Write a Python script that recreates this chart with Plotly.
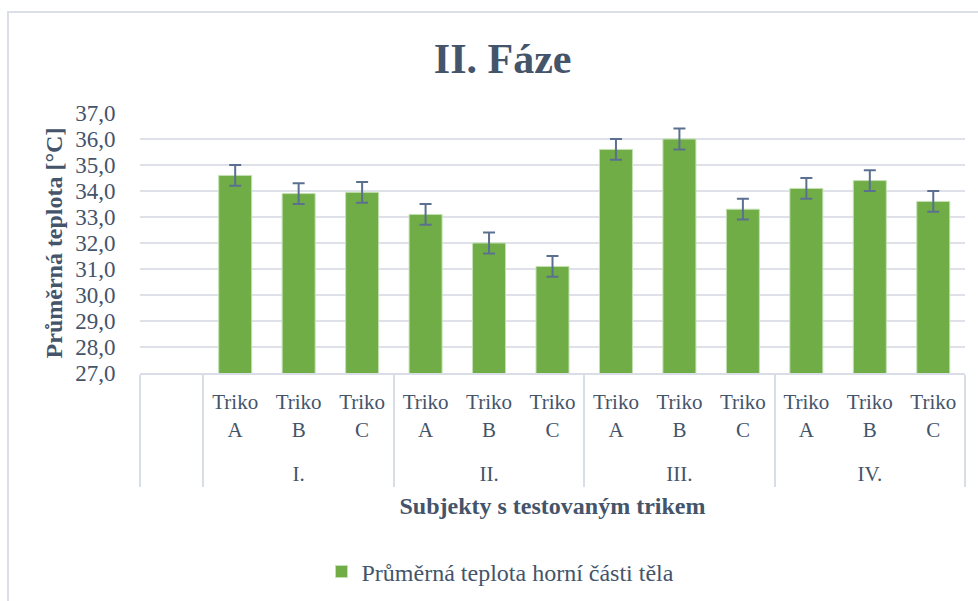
import plotly.graph_objects as go

groups = ["I.", "II.", "III.", "IV."]
shirts = ["Triko<br>A", "Triko<br>B", "Triko<br>C"]
values = [34.6, 33.9, 33.95, 33.1, 32.0, 31.1, 35.6, 36.0, 33.3, 34.1, 34.4, 33.6]
errors = [0.4, 0.4, 0.4, 0.4, 0.4, 0.4, 0.4, 0.4, 0.4, 0.4, 0.4, 0.4]
series_name = "Průměrná teplota horní části těla"

lvl0 = [" "]
lvl1 = [" "]
for g in groups:
    for s in shirts:
        lvl0.append("<br>" + g)
        lvl1.append(s)
yvals = [None] + values
evals = [0] + errors

TXT = "#44546A"
FONT = "Liberation Serif"

fig = go.Figure()
fig.add_trace(go.Bar(
    x=[lvl0, lvl1], y=yvals, name=series_name,
    marker=dict(color="#70AD47", line=dict(color="#C5E0B4", width=1)),
    error_y=dict(type="data", array=evals, color="#5B7090", thickness=2, width=6),
    showlegend=True,
))

fig.update_layout(
    width=978, height=601,
    margin=dict(l=140, r=13, t=113, b=228, autoexpand=False),
    paper_bgcolor="white", plot_bgcolor="white",
    separators=", ",
    font=dict(family=FONT, color=TXT, size=21),
    title=dict(text="<b>II. Fáze</b>", x=0.514, xanchor="center", y=0.903, yanchor="middle",
               font=dict(family=FONT, size=42, color=TXT)),
    bargap=0.48,
    showlegend=True,
    legend=dict(orientation="h", x=0.437, xanchor="center", y=-0.765, yanchor="middle",
                font=dict(family=FONT, size=24, color=TXT)),
    xaxis=dict(type="multicategory", showline=True, linecolor="#D9DEE6", linewidth=2,
               showgrid=False, showdividers=True, dividercolor="#D9DEE6", dividerwidth=2,
               ticklabelstandoff=9,
               tickfont=dict(family=FONT, size=21, color=TXT),
               title=dict(text="<b>Subjekty s testovaným trikem</b>", standoff=12,
                          font=dict(family=FONT, size=24, color=TXT))),
    yaxis=dict(range=[27, 37], dtick=1, tickformat=".1f", showgrid=True,
               gridcolor="#DEE2E8", gridwidth=2, zeroline=False, showline=False,
               ticks="outside", ticklen=19, tickcolor="rgba(0,0,0,0)",
               tickfont=dict(family=FONT, size=23, color=TXT),
               title=dict(text="<b>Průměrná teplota [°C]</b>", standoff=5,
                          font=dict(family=FONT, size=24, color=TXT))),
)

fig.add_shape(type="rect", xref="paper", yref="paper",
              x0=(8 - 140) / 825, x1=1.1, y0=-1.2, y1=(601 - 12 - 228) / 260,
              line=dict(color="#DCE0E6", width=2), fillcolor="rgba(0,0,0,0)", layer="below")

fig.write_html("out.html", config={"displayModeBar": False},
               post_script="document.body.style.margin='0';")
